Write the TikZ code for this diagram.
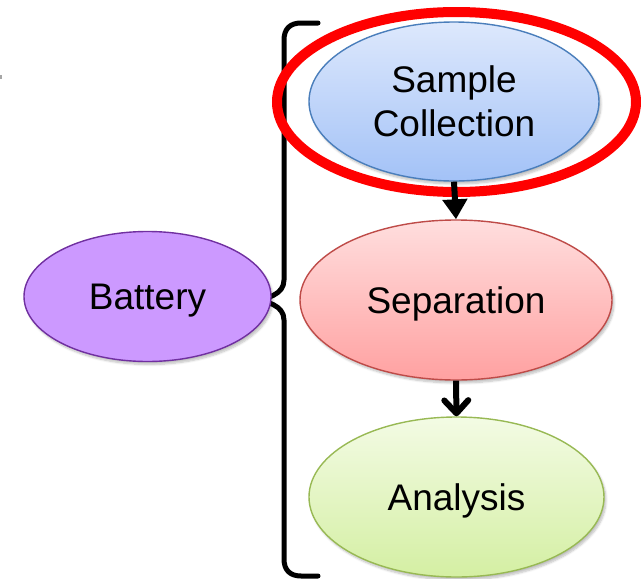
\documentclass[tikz,border=0pt]{standalone}
\usepackage{fontspec}
\setmainfont{Liberation Sans}
\usetikzlibrary{shapes.geometric,arrows.meta,shadows.blur}
\definecolor{bluetop}{HTML}{DDE8FC}
\definecolor{bluebot}{HTML}{A3C2F7}
\definecolor{blueline}{HTML}{4A7EBB}
\definecolor{pinktop}{HTML}{FFDEDE}
\definecolor{pinkbot}{HTML}{FFA1A1}
\definecolor{pinkline}{HTML}{BE4B48}
\definecolor{greentop}{HTML}{F3FBE4}
\definecolor{greenbot}{HTML}{D4EFA3}
\definecolor{greenline}{HTML}{98B954}
\definecolor{purplefill}{HTML}{CC99FF}
\definecolor{purpleline}{HTML}{7030A0}
\tikzset{
  stagebox/.style={ellipse, inner sep=0pt, line width=1.4pt, align=center,
    text depth=0pt,
    font=\fontsize{37}{44}\selectfont,
    blur shadow={shadow xshift=2pt, shadow yshift=-3pt, shadow blur steps=6, shadow opacity=25}},
  flowarrow/.style={line width=6pt},
  bracepath/.style={line width=5pt, line cap=round, line join=round},
}
\begin{document}
\begin{tikzpicture}[x=1pt,y=-1pt]
\useasboundingbox (0,0) rectangle (641,579);
\fill[gray!70] (0,75) rectangle (1.6,78.5);
% brace
\coordinate (tip) at (248,300);
\coordinate (btop) at (318,23);
\coordinate (bbot) at (318,576);
\draw[bracepath] (btop) -- (301,23) .. controls (290,23) and (284,29) .. (284,40)
  -- (284,280) .. controls (284,294) and (268,300) .. (tip)
  .. controls (268,300) and (284,306) .. (284,320)
  -- (284,559) .. controls (284,570) and (290,576) .. (301,576) -- (bbot);
% nodes
\node[stagebox, draw=purpleline, fill=purplefill, minimum width=247pt, minimum height=130pt]
  (battery) at (147.5,296.5) {Battery};
\node[stagebox, draw=blueline, top color=bluetop, bottom color=bluebot, minimum width=290pt, minimum height=159pt]
  (sample) at (454,101.5) {Sample\\Collection};
\node[stagebox, draw=pinkline, top color=pinktop, bottom color=pinkbot, minimum width=312pt, minimum height=160pt]
  (separation) at (456,300) {Separation};
\node[stagebox, draw=greenline, top color=greentop, bottom color=greenbot, minimum width=295pt, minimum height=160pt]
  (analysis) at (456.5,497) {Analysis};
% highlight ring
\node[ellipse, draw=red, line width=10pt, minimum width=359pt, minimum height=180pt, inner sep=0pt]
  (ring) at (456.5,102) {};
% arrows
\draw[flowarrow, -{Triangle[width=24pt,length=20pt]}] (sample.south) -- (separation.north);
\draw[flowarrow, -{Straight Barb[width=24pt,length=13pt,round]}] (separation.south) -- (analysis.north);
\end{tikzpicture}
\end{document}
